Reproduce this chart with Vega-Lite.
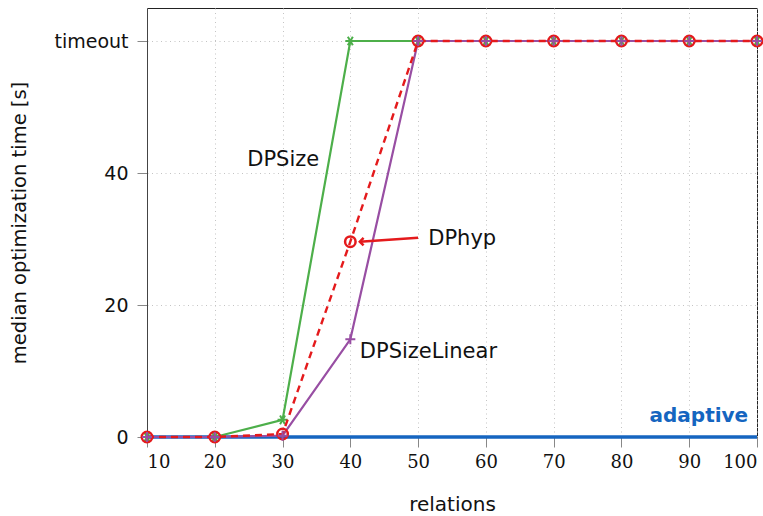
{
  "$schema": "https://vega.github.io/schema/vega-lite/v6.json",
  "width": 610,
  "height": 429,
  "autosize": "none",
  "padding": {"left": 147, "top": 8, "right": 6, "bottom": 79},
  "background": "white",
  "config": {
    "view": {"stroke": "#222", "strokeWidth": 1},
    "axis": {"gridColor": "#c4c4c4", "gridDash": [1, 3.5], "gridWidth": 1, "tickColor": "#888", "domainColor": "#444", "labelColor": "#111", "titleColor": "#111", "titleFontWeight": "normal"}
  },
  "datasets": {
    "series": [
      {"series": "adaptive", "x": 10, "y": 0}, {"series": "adaptive", "x": 20, "y": 0}, {"series": "adaptive", "x": 30, "y": 0}, {"series": "adaptive", "x": 40, "y": 0}, {"series": "adaptive", "x": 50, "y": 0}, {"series": "adaptive", "x": 60, "y": 0}, {"series": "adaptive", "x": 70, "y": 0}, {"series": "adaptive", "x": 80, "y": 0}, {"series": "adaptive", "x": 90, "y": 0}, {"series": "adaptive", "x": 100, "y": 0},
      {"series": "DPSize", "x": 10, "y": 0}, {"series": "DPSize", "x": 20, "y": 0}, {"series": "DPSize", "x": 30, "y": 2.6}, {"series": "DPSize", "x": 40, "y": 60}, {"series": "DPSize", "x": 50, "y": 60}, {"series": "DPSize", "x": 60, "y": 60}, {"series": "DPSize", "x": 70, "y": 60}, {"series": "DPSize", "x": 80, "y": 60}, {"series": "DPSize", "x": 90, "y": 60}, {"series": "DPSize", "x": 100, "y": 60},
      {"series": "DPSizeLinear", "x": 10, "y": 0}, {"series": "DPSizeLinear", "x": 20, "y": 0}, {"series": "DPSizeLinear", "x": 30, "y": 0.2}, {"series": "DPSizeLinear", "x": 40, "y": 14.8}, {"series": "DPSizeLinear", "x": 50, "y": 60}, {"series": "DPSizeLinear", "x": 60, "y": 60}, {"series": "DPSizeLinear", "x": 70, "y": 60}, {"series": "DPSizeLinear", "x": 80, "y": 60}, {"series": "DPSizeLinear", "x": 90, "y": 60}, {"series": "DPSizeLinear", "x": 100, "y": 60},
      {"series": "DPhyp", "x": 10, "y": 0}, {"series": "DPhyp", "x": 20, "y": 0}, {"series": "DPhyp", "x": 30, "y": 0.45}, {"series": "DPhyp", "x": 40, "y": 29.6}, {"series": "DPhyp", "x": 50, "y": 60}, {"series": "DPhyp", "x": 60, "y": 60}, {"series": "DPhyp", "x": 70, "y": 60}, {"series": "DPhyp", "x": 80, "y": 60}, {"series": "DPhyp", "x": 90, "y": 60}, {"series": "DPhyp", "x": 100, "y": 60}
    ],
    "arrow": [{"x": 50.0, "y": 30.2, "x2": 41.4, "y2": 29.6}],
    "labels": [
      {"text": "DPSize", "x": 30.1, "y": 42, "kind": "plain"},
      {"text": "DPhyp", "x": 51.5, "y": 30, "kind": "plain"},
      {"text": "DPSizeLinear", "x": 41.4, "y": 12.9, "kind": "plain"}
    ]
  },
  "encoding": {
    "x": {"field": "x", "type": "quantitative", "scale": {"domain": [10, 100], "nice": false, "zero": false},
      "axis": {"values": [10, 20, 30, 40, 50, 60, 70, 80, 90, 100], "title": "relations", "labelFont": "DejaVu Serif", "labelFontSize": 18, "tickSize": 10, "labelPadding": 6, "titleFont": "DejaVu Sans", "titleFontSize": 20, "titlePadding": 23, "domain": false, "grid": true}},
    "y": {"field": "y", "type": "quantitative", "scale": {"domain": [0, 65], "nice": false},
      "axis": {"values": [0, 20, 40, 60], "labelExpr": "datum.value == 60 ? 'timeout' : datum.label", "title": "median optimization time [s]", "labelFont": "DejaVu Sans", "labelFontSize": 19, "tickSize": 10, "labelPadding": 9, "titleFont": "DejaVu Sans", "titleFontSize": 19.5, "titlePadding": 24, "grid": true}}
  },
  "layer": [
    {"data": {"name": "series"}, "transform": [{"filter": "datum.series == 'adaptive'"}], "mark": {"type": "line", "color": "#1565c0", "strokeWidth": 3.6}},
    {"data": {"name": "series"}, "transform": [{"filter": "datum.series == 'DPSize'"}], "mark": {"type": "line", "color": "#4daf4a", "strokeWidth": 2.2}},
    {"data": {"name": "series"}, "transform": [{"filter": "datum.series == 'DPSize'"}], "mark": {"type": "point", "shape": "M-1,0L1,0M-0.5,-0.866L0.5,0.866M-0.5,0.866L0.5,-0.866", "filled": false, "stroke": "#4daf4a", "strokeWidth": 2, "size": 100, "opacity": 1}},
    {"data": {"name": "series"}, "transform": [{"filter": "datum.series == 'DPSizeLinear'"}], "mark": {"type": "line", "color": "#984ea3", "strokeWidth": 2.2}},
    {"data": {"name": "series"}, "transform": [{"filter": "datum.series == 'DPhyp'"}], "mark": {"type": "line", "color": "#e41a1c", "strokeWidth": 2.4, "strokeDash": [7, 5]}},
    {"data": {"name": "series"}, "transform": [{"filter": "datum.series == 'DPhyp'"}], "mark": {"type": "point", "shape": "circle", "filled": false, "stroke": "#e41a1c", "strokeWidth": 2.5, "size": 110, "opacity": 1}},
    {"data": {"name": "series"}, "transform": [{"filter": "datum.series == 'DPSizeLinear'"}], "mark": {"type": "point", "shape": "M-1,0L1,0M0,-1L0,1", "filled": false, "stroke": "#984ea3", "strokeWidth": 2, "size": 100, "opacity": 1}},
    {"data": {"name": "arrow"}, "mark": {"type": "rule", "color": "#e41a1c", "strokeWidth": 2.5},
      "encoding": {"x2": {"field": "x2"}, "y2": {"field": "y2"}}},
    {"data": {"name": "arrow"}, "mark": {"type": "point", "shape": "M0.9,-0.9L0,0L0.9,0.9", "filled": false, "stroke": "#e41a1c", "strokeWidth": 2.5, "size": 70, "opacity": 1},
      "encoding": {"x": {"field": "x2", "type": "quantitative"}, "y": {"field": "y2", "type": "quantitative"}}},
    {"data": {"name": "labels"}, "transform": [{"filter": "datum.text != 'DPhyp' && datum.text != 'DPSizeLinear'"}], "mark": {"type": "text", "font": "DejaVu Sans", "fontSize": 21, "color": "#111", "align": "center", "baseline": "middle"}, "encoding": {"text": {"field": "text"}}},
    {"data": {"name": "labels"}, "transform": [{"filter": "datum.text == 'DPhyp' || datum.text == 'DPSizeLinear'"}], "mark": {"type": "text", "font": "DejaVu Sans", "fontSize": 21, "color": "#111", "align": "left", "baseline": "middle"}, "encoding": {"text": {"field": "text"}}},
    {"data": {"values": [{"text": "adaptive", "x": 98.7, "y": 3.2}]}, "mark": {"type": "text", "font": "DejaVu Sans", "fontSize": 20, "fontWeight": "bold", "color": "#1565c0", "align": "right", "baseline": "middle"}, "encoding": {"text": {"field": "text"}}}
  ]
}
